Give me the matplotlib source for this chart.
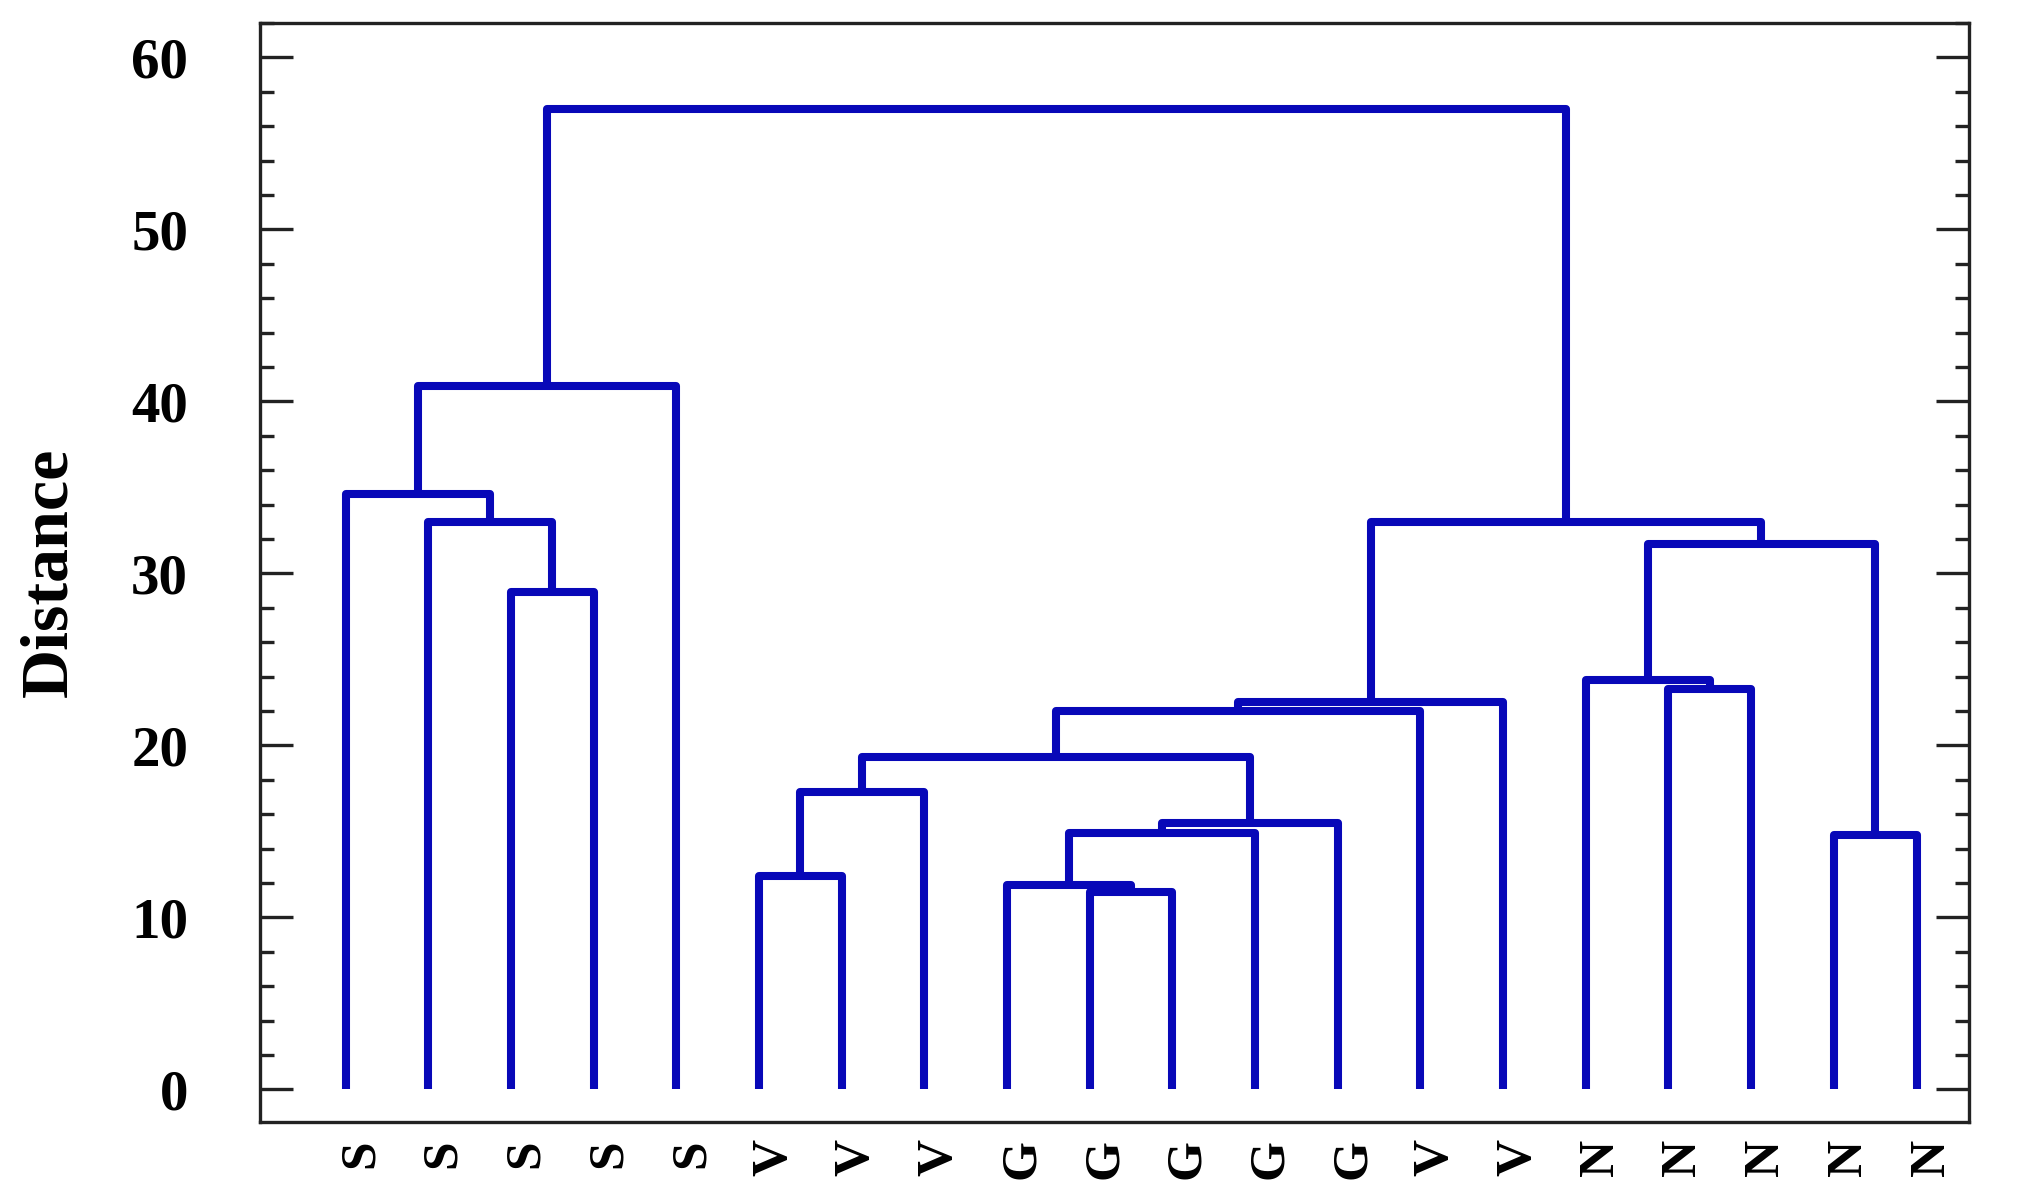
import matplotlib
matplotlib.use('Agg')
import matplotlib.pyplot as plt
import matplotlib.transforms as mtransforms
from matplotlib.ticker import MultipleLocator

# === Данные дендрограммы ===
leaf_labels = ['S', 'S', 'S', 'S', 'S', 'V', 'V', 'V', 'G', 'G',
               'G', 'G', 'G', 'V', 'V', 'N', 'N', 'N', 'N', 'N']

# слияния: узлы 0..19 - листья, 20.. - новые кластеры по порядку
left_child = [2, 1, 0, 22, 5, 24, 9, 8, 27, 28, 25, 30, 31, 16, 15, 18, 34, 32, 23]
right_child = [3, 20, 21, 4, 6, 7, 10, 26, 11, 12, 29, 13, 14, 17, 33, 19, 35, 36, 37]
merge_height = [28.9, 33.0, 34.6, 40.9, 12.4, 17.3, 11.5, 11.9, 14.9, 15.5,
                19.3, 22.0, 22.5, 23.3, 23.8, 14.8, 31.7, 33.0, 57.0]

line_color = '#0808b8'
font = {'family': 'Liberation Serif', 'weight': 'bold'}

fig = plt.figure(figsize=(20.22, 11.94), dpi=100)
ax = fig.add_axes([0.1288, 0.0603, 0.8452, 0.9204])

n = len(leaf_labels)
xpos = {i: float(i) for i in range(n)}
ypos = {i: 0.0 for i in range(n)}
for k, (a, b, h) in enumerate(zip(left_child, right_child, merge_height)):
    xa, xb = xpos[a], xpos[b]
    ax.plot([xa, xa, xb, xb], [ypos[a], h, h, ypos[b]], color=line_color,
            linewidth=5.8, solid_capstyle='butt', solid_joinstyle='round')
    xpos[n + k] = (xa + xb) / 2
    ypos[n + k] = h

ax.set_xlim(-1.03, 19.64)
ax.set_ylim(-1.9, 62.0)

# Оси
ax.yaxis.set_major_locator(MultipleLocator(10))
ax.yaxis.set_minor_locator(MultipleLocator(2))
ax.tick_params(axis='y', which='major', direction='in', length=23.5, width=2.4,
               left=True, right=True, pad=52, color='#222222')
ax.tick_params(axis='y', which='minor', direction='in', length=10, width=2.4,
               left=True, right=True, color='#222222')
ax.tick_params(axis='x', which='both', bottom=False, top=False, pad=9)
for sp in ax.spines.values():
    sp.set_linewidth(2.4)
    sp.set_color('#222222')

ax.set_xticks(range(n))
ax.set_xticklabels(leaf_labels, rotation=90, fontsize=37, va='top', ha='center', **font)
offset = mtransforms.ScaledTranslation(0.15, 0, fig.dpi_scale_trans)
for lbl in ax.get_xticklabels():
    lbl.set_transform(lbl.get_transform() + offset)

for lbl in ax.get_yticklabels():
    lbl.set_fontsize(41)
    lbl.set_fontfamily('Liberation Serif')
    lbl.set_fontweight('bold')

ax.set_ylabel('Distance', fontsize=49, **font)
ax.yaxis.set_label_coords(-0.1056, 0.5)

fig.savefig('out.png', dpi=100)
